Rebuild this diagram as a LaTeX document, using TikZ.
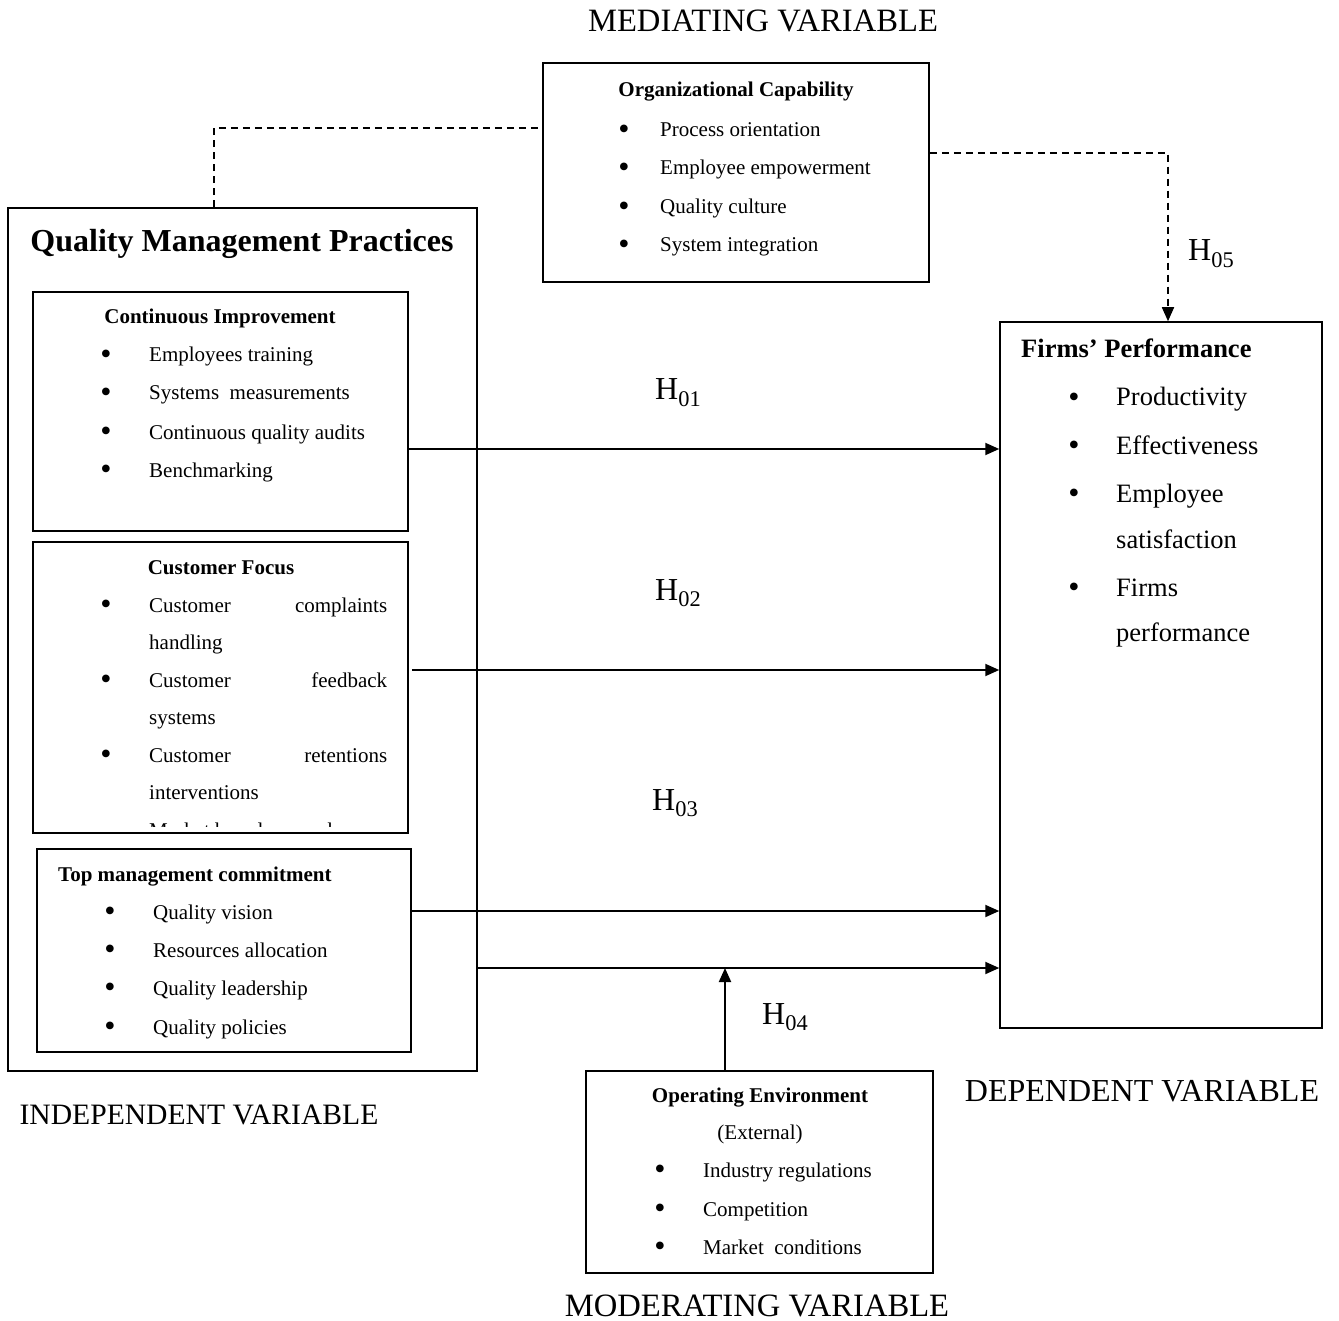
\documentclass[tikz,border=0pt]{standalone}
\usepackage{fontspec}
\setmainfont{Liberation Serif}
\usetikzlibrary{arrows.meta}
\newcommand{\qsmall}{\fontsize{21}{25}\selectfont}
\newcommand{\qmid}{\fontsize{26.5}{31}\selectfont}
\newcommand{\qbig}{\fontsize{32}{38}\selectfont}
\newcommand{\qdot}{{\fontsize{32}{38}\selectfont\textbullet}}
\begin{document}
\begin{tikzpicture}[x=1pt, y=-1pt,
    box/.style={draw, line width=1.5pt, inner sep=0pt},
    txt/.style={inner sep=0pt, anchor=west, yshift=-4pt, text height=12pt, text depth=4pt, font=\qsmall},
    midtxt/.style={inner sep=0pt, anchor=west, yshift=-4pt, text height=15pt, text depth=5pt, font=\qmid},
    dot/.style={inner sep=0pt, yshift=-3pt},
    lbl/.style={inner sep=0pt, font=\qbig},
    arr/.style={line width=2pt, -{Triangle[length=14pt,width=12pt]}},
    dash line/.style={line width=1.6pt, dash pattern=on 7pt off 5pt}]
    \useasboundingbox (0,0) rectangle (1339,1321);
    % boxes
    \node (org) at (736,172.5) [box, minimum width=386pt, minimum height=219pt] {};
    \node (qmp) at (242.5,639.5) [box, minimum width=469pt, minimum height=863pt] {};
    \node (ci) at (220.5,411.5) [box, minimum width=375pt, minimum height=239pt] {};
    \node (cf) at (220.5,687.5) [box, minimum width=375pt, minimum height=291pt] {};
    \node (tm) at (224,950.5) [box, minimum width=374pt, minimum height=203pt] {};
    \node (fp) at (1161,675) [box, minimum width=322pt, minimum height=706pt] {};
    \node (oe) at (759.5,1172) [box, minimum width=347pt, minimum height=202pt] {};
    % variable labels
    \node (medlbl) at (763,21) [lbl, font=\fontsize{32.6}{38}\selectfont] {MEDIATING VARIABLE};
    \node (indlbl) at (199,1115) [lbl, font=\fontsize{29.6}{36}\selectfont] {INDEPENDENT VARIABLE};
    \node (deplbl) at (1142,1091) [lbl] {DEPENDENT VARIABLE};
    \node (modlbl) at (757,1306) [lbl, font=\fontsize{32.6}{38}\selectfont] {MODERATING VARIABLE};
    % mediating
    \node (orgt) at (736,89) [txt, anchor=center, font=\qsmall\bfseries] {Organizational Capability};
    \node (orgb1) at (624,129) [dot] {\qdot};
    \node (orgb2) at (624,167) [dot] {\qdot};
    \node (orgb3) at (624,206) [dot] {\qdot};
    \node (orgb4) at (624,244) [dot] {\qdot};
    \node (org1) at (660,129) [txt] {Process orientation};
    \node (org2) at (660,167) [txt] {Employee empowerment};
    \node (org3) at (660,206) [txt] {Quality culture};
    \node (org4) at (660,244) [txt] {System integration};
    % independent
    \node (qmpt) at (242,244) [inner sep=0pt, font=\qbig\bfseries] {Quality Management Practices};
    \node (cit) at (220,316) [txt, anchor=center, font=\qsmall\bfseries] {Continuous Improvement};
    \node (cib1) at (106,354) [dot] {\qdot};
    \node (cib2) at (106,392) [dot] {\qdot};
    \node (cib3) at (106,431) [dot] {\qdot};
    \node (cib4) at (106,469) [dot] {\qdot};
    \node (ci1) at (149,354) [txt] {Employees training};
    \node (ci2) at (149,392) [txt] {Systems\ \ measurements};
    \node (ci3) at (149,431) [txt] {Continuous quality audits};
    \node (ci4) at (149,469) [txt] {Benchmarking};
    \node (cft) at (221,566) [txt, anchor=center, font=\qsmall\bfseries] {Customer Focus};
    \node (cfb1) at (106,604) [dot] {\qdot};
    \node (cfb2) at (106,679) [dot] {\qdot};
    \node (cfb3) at (106,754) [dot] {\qdot};
    \node (cf1) at (149,604) [txt] {\makebox[238pt][s]{Customer complaints}};
    \node (cf2) at (149,641) [txt] {handling};
    \node (cf3) at (149,679) [txt] {\makebox[238pt][s]{Customer feedback}};
    \node (cf4) at (149,716) [txt] {systems};
    \node (cf5) at (149,754) [txt] {\makebox[238pt][s]{Customer retentions}};
    \node (cf6) at (149,791) [txt] {interventions};
    \begin{scope}
      \clip (40,800) rectangle (400,826);
      \node (cf7) at (149,829) [txt] {Market based research};
    \end{scope}
    \node (tmt) at (58,873) [txt, font=\qsmall\bfseries] {Top management commitment};
    \node (tmb1) at (110,911) [dot] {\qdot};
    \node (tmb2) at (110,949) [dot] {\qdot};
    \node (tmb3) at (110,987) [dot] {\qdot};
    \node (tmb4) at (110,1026) [dot] {\qdot};
    \node (tm1) at (153,911) [txt] {Quality vision};
    \node (tm2) at (153,949) [txt] {Resources allocation};
    \node (tm3) at (153,987) [txt] {Quality leadership};
    \node (tm4) at (153,1026) [txt] {Quality policies};
    % dependent
    \node (fpt) at (1021,349) [midtxt, font=\qmid\bfseries] {Firms’ Performance};
    \node (fpb1) at (1074,397) [dot] {\qdot};
    \node (fpb2) at (1074,445) [dot] {\qdot};
    \node (fpb3) at (1074,493) [dot] {\qdot};
    \node (fpb4) at (1074,587) [dot] {\qdot};
    \node (fp1) at (1116,397) [midtxt] {Productivity};
    \node (fp2) at (1116,445) [midtxt] {Effectiveness};
    \node (fp3) at (1116,493) [midtxt] {Employee};
    \node (fp4) at (1116,539) [midtxt] {satisfaction};
    \node (fp5) at (1116,587) [midtxt] {Firms};
    \node (fp6) at (1116,632) [midtxt] {performance};
    % moderating
    \node (oet) at (760,1094) [txt, anchor=center, font=\qsmall\bfseries] {Operating Environment};
    \node (oex) at (760,1131) [txt, anchor=center] {(External)};
    \node (oeb1) at (660,1169) [dot] {\qdot};
    \node (oeb2) at (660,1208) [dot] {\qdot};
    \node (oeb3) at (660,1246) [dot] {\qdot};
    \node (oe1) at (703,1169) [txt] {Industry regulations};
    \node (oe2) at (703,1208) [txt] {Competition};
    \node (oe3) at (703,1246) [txt] {Market\ \ conditions};
    % hypotheses
    \node (h1) at (655,400) [lbl, anchor=base west] {H\textsubscript{01}};
    \node (h2) at (655,600) [lbl, anchor=base west] {H\textsubscript{02}};
    \node (h3) at (652,810) [lbl, anchor=base west] {H\textsubscript{03}};
    \node (h4) at (762,1024) [lbl, anchor=base west] {H\textsubscript{04}};
    \node (h5) at (1188,261) [lbl, anchor=base west] {H\textsubscript{05}};
    % connectors
    \coordinate (m4) at (725,968);
    \draw[arr] ([yshift=-37.5pt]ci.east) -- ([yshift=-37.5pt]ci.east -| fp.west);
    \draw[arr] ([xshift=3pt,yshift=17.5pt]cf.east) -- ([yshift=17.5pt]cf.east -| fp.west);
    \draw[arr] ([yshift=39.5pt]tm.east) -- ([yshift=39.5pt]tm.east -| fp.west);
    \draw[arr] (qmp.east |- m4) -- (m4 -| fp.west);
    \draw[arr] (oe.north -| m4) -- (m4);
    \draw[dash line] ([xshift=-28.5pt]qmp.north) |- ([yshift=44.5pt]org.west);
    \draw[dash line, -{Triangle[length=14pt,width=12pt]}] ([yshift=19.5pt]org.east) -| ([xshift=7pt]fp.north);
\end{tikzpicture}
\end{document}
